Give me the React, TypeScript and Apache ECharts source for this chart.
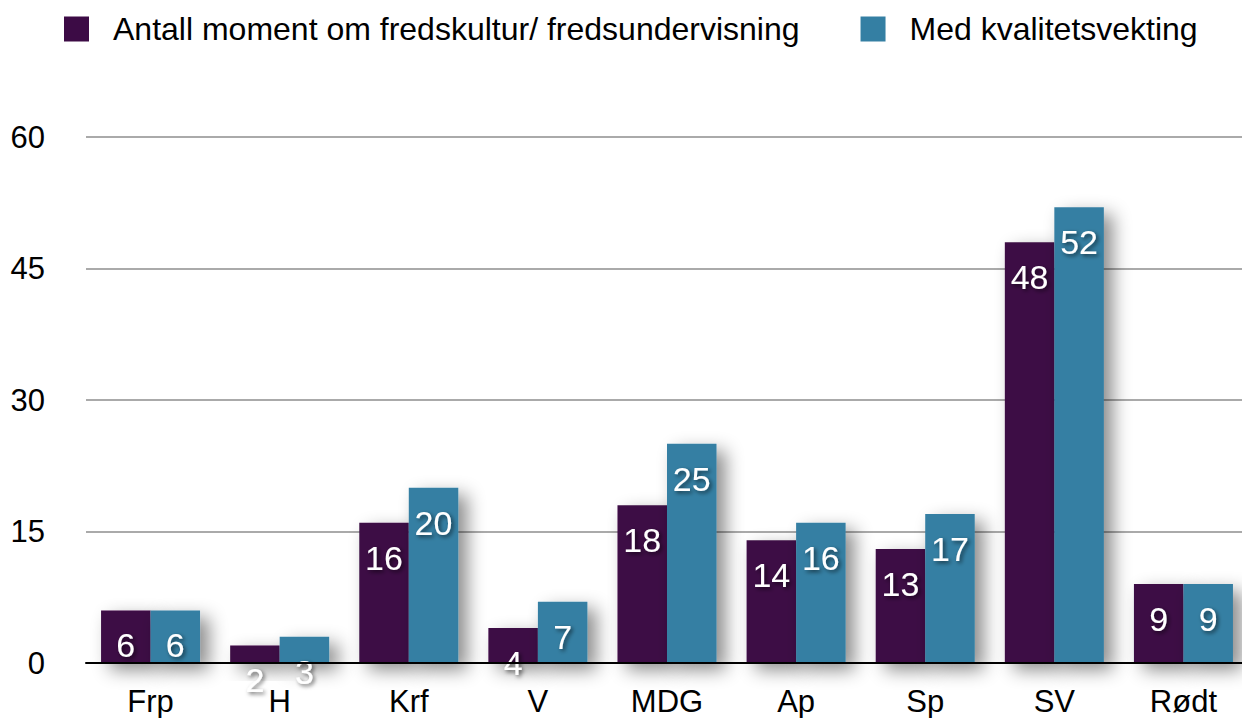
import React, { useEffect, useRef } from "react";
import * as echarts from "echarts";

const categories = ["Frp", "H", "Krf", "V", "MDG", "Ap", "Sp", "SV", "Rødt"];
const antallMoment = [6, 2, 16, 4, 18, 14, 13, 48, 9];
const medKvalitet = [6, 3, 20, 7, 25, 16, 17, 52, 9];
const seriesNames = ["Antall moment om fredskultur/ fredsundervisning", "Med kvalitetsvekting"];
const yTicks = { min: 0, max: 60, interval: 15 };

const FONT = "'Liberation Sans', Arial, Helvetica, sans-serif";
const PURPLE = "#3c0b45";
const BLUE = "#347fa3";

export default function App() {
  const ref = useRef<HTMLDivElement>(null);
  useEffect(() => {
    const chart = echarts.init(ref.current!, null, { renderer: "svg" });
    const label = {
      show: true,
      position: "insideTop",
      distance: 18,
      color: "#fff",
      fontSize: 34,
      fontFamily: FONT,
      textShadowColor: "rgba(0,0,0,0.6)",
      textShadowBlur: 4,
      textShadowOffsetX: 2,
      textShadowOffsetY: 2,
    };
    const shadow = {
      shadowColor: "rgba(0,0,0,0.45)",
      shadowBlur: 18,
      shadowOffsetX: 9,
      shadowOffsetY: 7,
    };
    chart.setOption({
      animation: false,
      textStyle: { fontFamily: FONT },
      legend: {
        top: 13,
        left: 64,
        padding: 0,
        itemWidth: 25,
        itemHeight: 25,
        itemGap: 61,
        icon: "rect",
        textStyle: { fontSize: 32, color: "#000", fontFamily: FONT, padding: [0, 0, 0, 19] },
        data: seriesNames,
      },
      grid: { left: 86, right: 0, top: 137, bottom: 55, containLabel: false },
      xAxis: {
        type: "category",
        data: categories,
        axisLine: { lineStyle: { color: "#000", width: 2 } },
        axisTick: { show: false },
        axisLabel: { fontSize: 31, color: "#000", margin: 23, fontFamily: FONT },
        z: 5,
      },
      yAxis: {
        type: "value",
        min: yTicks.min,
        max: yTicks.max,
        interval: yTicks.interval,
        axisLine: { show: false },
        axisTick: { show: false },
        axisLabel: { fontSize: 31, color: "#000", margin: 41, fontFamily: FONT },
        splitLine: { lineStyle: { color: "#aaa", width: 2 } },
      },
      series: [
        {
          name: seriesNames[0],
          type: "bar",
          data: antallMoment,
          barWidth: 49.5,
          barGap: "0%",
          itemStyle: { color: PURPLE, ...shadow },
          label,
          z: 3,
        },
        {
          name: seriesNames[1],
          type: "bar",
          data: medKvalitet,
          barWidth: 49.5,
          barGap: "0%",
          itemStyle: { color: BLUE, ...shadow },
          label,
          z: 3,
        },
      ],
    });
    return () => chart.dispose();
  }, []);
  return (
    <div
      style={{ position: "fixed", left: 0, top: 0, width: 1242, height: 718, overflow: "hidden", background: "#fff" }}
    >
      <div ref={ref} style={{ width: 1248, height: 718 }} />
    </div>
  );
}
